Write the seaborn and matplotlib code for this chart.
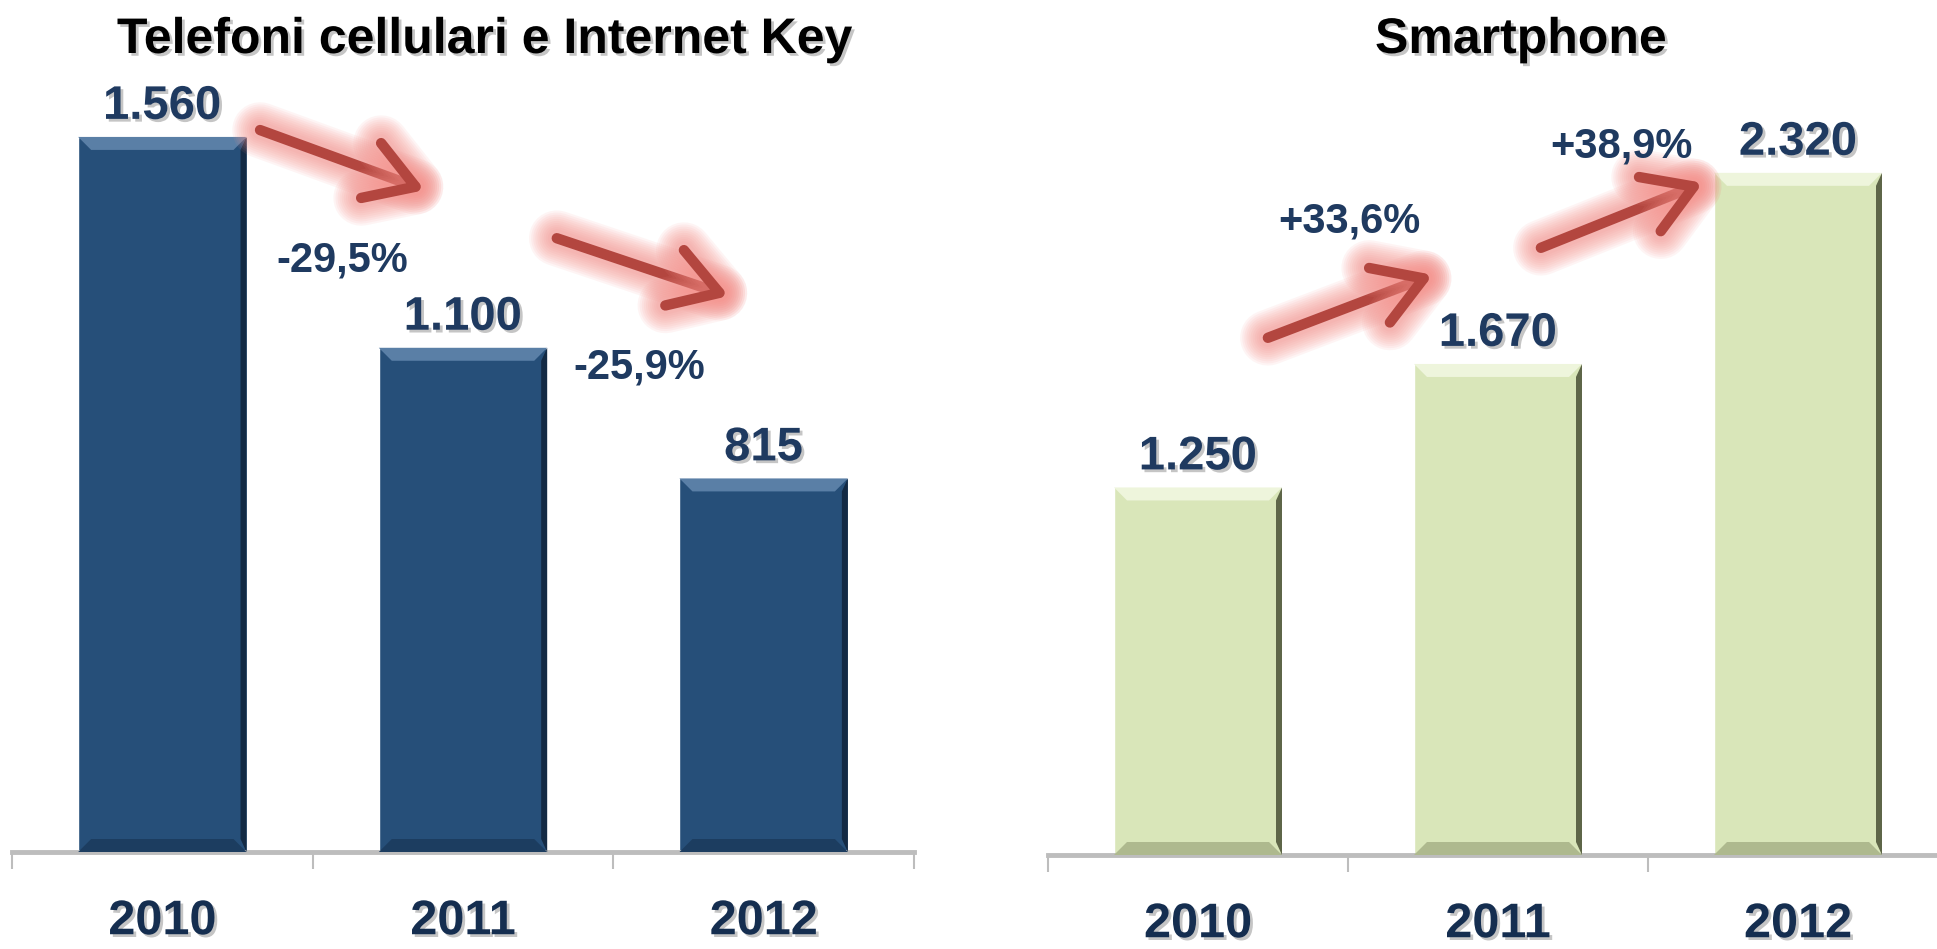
import numpy as np
import pandas as pd
import matplotlib
matplotlib.use("Agg")
import matplotlib.pyplot as plt
import seaborn as sns
from matplotlib import patheffects as pe
from matplotlib.patches import Polygon

# ---------------- data ----------------
years = ["2010", "2011", "2012"]
phones_values = [1560, 1100, 815]
phones_labels = ["1.560", "1.100", "815"]
smart_values = [1250, 1670, 2320]
smart_labels = ["1.250", "1.670", "2.320"]
phones_changes = ["-29,5%", "-25,9%"]
smart_changes = ["+33,6%", "+38,9%"]
titles = ["Telefoni cellulari e Internet Key", "Smartphone"]

# ---------------- layout (annotation placement, data coords) ----------------
phones_arrows = [((0.325, 1575), (0.873, 1444)), ((1.312, 1339), (1.884, 1213))]
phones_change_pos = [(0.597, 1291), (1.585, 1056)]
smart_arrows = [((0.233, 1759), (0.783, 1973)), ((1.143, 2065), (1.683, 2286))]
smart_change_pos = [(0.503, 2153), (1.413, 2408)]

NAVY = "#1F3A60"
sns.set_theme(style="white")
plt.rcParams["font.family"] = ["Liberation Sans", "DejaVu Sans"]

W, H = 1937, 949
fig = plt.figure(figsize=(W / 100, H / 100), dpi=100)
ax1 = fig.add_axes([12 / W, 97 / H, 902 / W, 848 / H])
ax2 = fig.add_axes([1048 / W, 94 / H, 900 / W, 838 / H])

shadow = [pe.withSimplePatchShadow(offset=(2, -2), shadow_rgbFace="#7f7f7f", alpha=0.45)]


def bevel(ax, light, dark, side, b=13):
    sx = ax.bbox.width / (ax.get_xlim()[1] - ax.get_xlim()[0])
    sy = ax.bbox.height / (ax.get_ylim()[1] - ax.get_ylim()[0])
    dx, dy = b / sx, b / sy
    ds = 6 / sx
    for p in ax.patches:
        x0, y0 = p.get_x(), p.get_y()
        x1, y1 = x0 + p.get_width(), y0 + p.get_height()
        top = [(x0, y1), (x1, y1), (x1 - dx, y1 - dy), (x0 + dx, y1 - dy)]
        bot = [(x0, y0), (x1, y0), (x1 - dx, y0 + dy), (x0 + dx, y0 + dy)]
        right = [(x1, y1), (x1, y0), (x1 - ds, y0 + dy), (x1 - ds, y1 - dy)]
        ax.add_patch(Polygon(top, closed=True, facecolor=light, edgecolor="none", zorder=3))
        ax.add_patch(Polygon(bot, closed=True, facecolor=side, edgecolor="none", zorder=3))
        ax.add_patch(Polygon(right, closed=True, facecolor=dark, edgecolor="none", zorder=3))


def glow_arrow(ax, start, end):
    ann = ax.annotate("", xy=end, xytext=start,
                      arrowprops=dict(arrowstyle="->,head_length=1.7,head_width=1.05",
                                      lw=7.5, color="#B3463F", mutation_scale=20,
                                      shrinkA=0, shrinkB=0),
                      annotation_clip=False, zorder=5)
    effects = []
    for lw in range(40, 10, -3):
        effects.append(pe.Stroke(linewidth=lw, foreground="#F48C86", alpha=0.09))
    effects.append(pe.Normal())
    ann.arrow_patch.set_path_effects(effects)


def panel(ax, values, labels, color, light, dark, side, ymax, arrows, changes, change_pos):
    df = pd.DataFrame({"year": years, "value": values})
    sns.barplot(data=df, x="year", y="value", color=color, saturation=1, width=0.56,
                ax=ax, zorder=2)
    ax.set_xlim(-0.5, 2.5)
    ax.set_ylim(0, ymax)
    bevel(ax, light, dark, side)
    for i, (v, lab) in enumerate(zip(values, labels)):
        t = ax.annotate(lab, xy=(i, v), xytext=(0, 13), textcoords="offset points",
                        ha="center", va="baseline", fontsize=34, fontweight="bold",
                        color=NAVY, annotation_clip=False)
        t.set_path_effects(shadow)
    for (s, e) in arrows:
        glow_arrow(ax, s, e)
    for txt, (x, y) in zip(changes, change_pos):
        ax.text(x, y, txt, ha="center", va="center", fontsize=30, fontweight="bold",
                color=NAVY, clip_on=False, zorder=6)
    ax.set_xlabel("")
    ax.set_ylabel("")
    ax.set_yticks([])
    for s in ["top", "left", "right"]:
        ax.spines[s].set_visible(False)
    ax.spines["bottom"].set_color("#BDBDBD")
    ax.spines["bottom"].set_linewidth(3.5)
    ax.set_xticks([0, 1, 2])
    ax.set_xticklabels(years)
    ax.set_xticks([-0.5, 0.5, 1.5, 2.5], minor=True)
    ax.tick_params(axis="x", which="major", length=0, pad=34, labelsize=35,
                   labelcolor="#152E50")
    ax.tick_params(axis="x", which="minor", length=12, width=1.5, color="#BDBDBD",
                   direction="out", bottom=True)
    for tl in ax.get_xticklabels():
        tl.set_fontweight("bold")
        tl.set_path_effects(shadow)
    ax.patch.set_alpha(0)


panel(ax1, phones_values, phones_labels, "#264F79", "#5A7FA6", "#132A44", "#1C3D60",
      1850, phones_arrows, phones_changes, phones_change_pos)
panel(ax2, smart_values, smart_labels, "#D9E6B9", "#EEF5DC", "#5E6648", "#AEB98E",
      2850, smart_arrows, smart_changes, smart_change_pos)

for txt, x in zip(titles, [485, 1521]):
    t = fig.text(x / W, 1 - 53 / H, txt, ha="center", va="baseline", fontsize=36,
                 fontweight="bold", color="black")
    t.set_path_effects(shadow)

fig.savefig("out.png", dpi=100)
